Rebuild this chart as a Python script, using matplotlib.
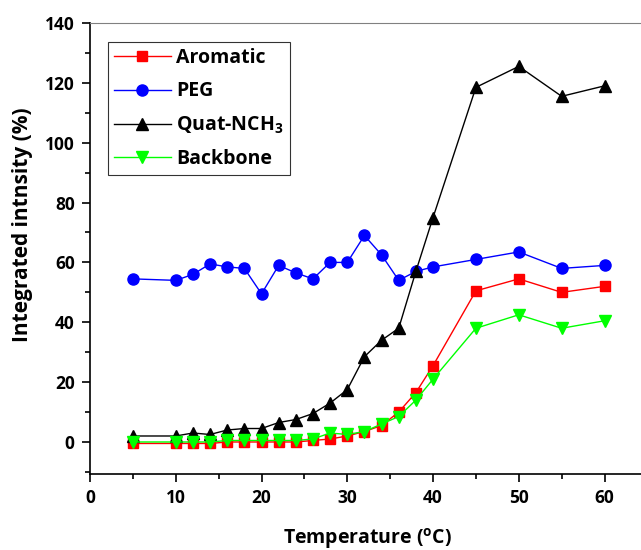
import matplotlib
matplotlib.use("Agg")
import matplotlib.pyplot as plt
from matplotlib.ticker import MultipleLocator

temperature = [5, 10, 12, 14, 16, 18, 20, 22, 24, 26, 28, 30, 32, 34, 36, 38, 40, 45, 50, 55, 60]
aromatic = [-0.5, -0.5, -0.5, -0.5, 0, 0, 0, 0, 0, 0.5, 1, 2, 3.5, 5.5, 10, 16.5, 25.5, 50.5, 54.5, 50, 52]
peg = [54.5, 54, 56, 59.5, 58.5, 58, 49.5, 59, 56.5, 54.5, 60, 60, 69, 62.5, 54, 57, 58.5, 61, 63.5, 58, 59]
quat = [2, 2, 3, 2.5, 4, 4.5, 4.5, 6.5, 7.5, 9.5, 13, 17.5, 28.5, 34, 38, 57, 75, 118.5, 125.5, 115.5, 119]
backbone = [0, 0, 0, 0, 0.5, 0.5, 0.5, 0.5, 0.5, 1, 3, 2.5, 3.5, 6, 8.5, 14, 21, 38, 42.5, 38, 40.5]

plt.rcParams["font.family"] = ["Open Sans", "DejaVu Sans"]
plt.rcParams["font.weight"] = "bold"
plt.rcParams["mathtext.fontset"] = "custom"
plt.rcParams["mathtext.rm"] = "Open Sans:bold"
plt.rcParams["mathtext.default"] = "rm"

fig = plt.figure(figsize=(6.41, 5.5), dpi=100)
ax = fig.add_axes([90 / 641, 76 / 550, 560 / 641, 451 / 550])

ax.plot(temperature, aromatic, "-s", color="red", lw=1, ms=7, label="Aromatic")
ax.plot(temperature, peg, "-o", color="blue", lw=1, ms=8, label="PEG")
ax.plot(temperature, quat, "-^", color="black", lw=1, ms=8.5, label="Quat-NCH$_3$")
ax.plot(temperature, backbone, "-v", color="#00ff00", lw=1, ms=8.5, label="Backbone")

ax.set_xlim(0, 65.3)
ax.set_ylim(-10.7, 140)
ax.xaxis.set_major_locator(MultipleLocator(10))
ax.xaxis.set_minor_locator(MultipleLocator(5))
ax.yaxis.set_major_locator(MultipleLocator(20))
ax.yaxis.set_minor_locator(MultipleLocator(10))
ax.tick_params(which="major", direction="out", length=6, width=1.2, labelsize=12.5, pad=5)
ax.tick_params(which="minor", direction="out", length=3.5, width=1.2)
for s in ["left", "bottom"]:
    ax.spines[s].set_color("black")
    ax.spines[s].set_linewidth(1.2)
ax.spines["top"].set_color("#808080")
ax.spines["right"].set_visible(False)

ax.set_xlabel("Temperature ($\\mathregular{^oC}$)", fontsize=14, fontweight="bold")
ax.set_ylabel("Integrated intnsity (%)", fontsize=15, fontweight="bold")
ax.xaxis.set_label_coords(0.496, -0.115)
ax.yaxis.set_label_coords(-0.102, 0.552)

leg = ax.legend(loc="upper left", bbox_to_anchor=(0.032, 0.958), fontsize=14,
                frameon=True, fancybox=False, edgecolor="black", handlelength=2.9,
                handletextpad=0.3, labelspacing=0.68, borderpad=0.32, borderaxespad=0)
leg.get_frame().set_linewidth(0.8)

fig.savefig("out.png", dpi=100)
